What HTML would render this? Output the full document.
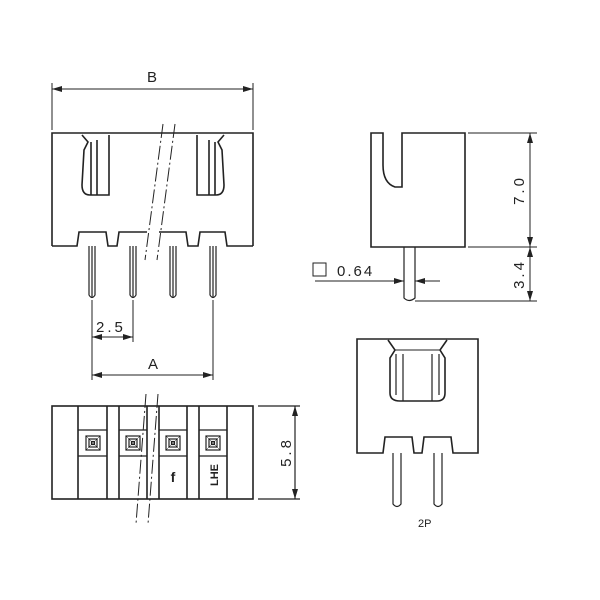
<!DOCTYPE html>
<html><head><style>html,body{margin:0;padding:0;background:#fff}svg{display:block}</style></head>
<body>
<svg width="600" height="600" viewBox="0 0 600 600" xmlns="http://www.w3.org/2000/svg" font-family="Liberation Sans, sans-serif">
<defs>
<marker id="ar" viewBox="0 0 10 6" refX="10" refY="3" markerWidth="10" markerHeight="6" orient="auto-start-reverse" markerUnits="userSpaceOnUse"><path d="M0,0 L10,3 L0,6 z" fill="#222"/></marker>
</defs>
<g stroke="#222" fill="none" stroke-width="1.6">
<!-- top-left view -->
<path d="M52,246 L52,133 L253,133 L253,246"/>
<path d="M52,246 L77,246 L79,232 L106,232 L108,246 L117,246 L119,232 L147,232"/>
<path d="M159,232 L186,232 L188,246 L198,246 L200,232 L225,232 L227,246 L253,246"/>
<path d="M147,232 L147,246 L117,246" stroke-width="0"/>
<!-- latches -->
<path d="M82,135 L88,142 L84,150 L82,185 Q82,195 90,195 L109,195 L109,135"/>
<path d="M91,142 L91,195 M97,140 L97,195"/>
<path d="M224,135 L218,142 L222,150 L224,185 Q224,195 216,195 L197,195 L197,135"/>
<path d="M215,142 L215,195 M209,140 L209,195"/>
<!-- pins -->
<g stroke-width="1.2">
<path d="M89,246 L89,295 Q92,300 95,295 L95,246 M92,246 L92,297"/>
<path d="M130,246 L130,295 Q133,300 136,295 L136,246 M133,246 L133,297"/>
<path d="M170,246 L170,295 Q173,300 176,295 L176,246 M173,246 L173,297"/>
<path d="M210,246 L210,295 Q213,300 216,295 L216,246 M213,246 L213,297"/>
</g>
</g>
<g stroke="#222" stroke-width="1" fill="none">
<path d="M52,83 L52,130 M253,83 L253,130"/>
<line x1="52" y1="89" x2="253" y2="89" marker-start="url(#ar)" marker-end="url(#ar)"/>
<path d="M92,300 L92,380 M133,300 L133,342 M213,300 L213,380"/>
<line x1="92" y1="337" x2="133" y2="337" marker-start="url(#ar)" marker-end="url(#ar)"/>
<line x1="92" y1="375" x2="213" y2="375" marker-start="url(#ar)" marker-end="url(#ar)"/>
<path d="M163,124 L145,260 M175,124 L157,260" stroke-dasharray="14,3,2,3"/>
<path d="M146,394 L136,524 M158,394 L148,524" stroke-dasharray="14,3,2,3"/>
</g>
<g font-size="15" fill="#222">
<text x="147" y="82">B</text>
<text x="96" y="332" letter-spacing="3">2.5</text>
<text x="148" y="369">A</text>
</g>
<!-- bottom view -->
<g stroke="#222" fill="none" stroke-width="1.6">
<rect x="52" y="406" width="201" height="93"/>
<path d="M78,406 V499 M107,406 V499 M119,406 V499 M147,406 V499 M159,406 V499 M187,406 V499 M199,406 V499 M227,406 V499"/>
<path d="M78,430 H107 M78,456 H107 M119,430 H147 M119,456 H147 M159,430 H187 M159,456 H187 M199,430 H227 M199,456 H227" stroke-width="1.2"/>
</g>
<g stroke="#222" fill="none" stroke-width="1.2">
<g id="sq"><rect x="86" y="436" width="14" height="14"/><rect x="89" y="439" width="8" height="8"/><rect x="91.5" y="441.5" width="3" height="3"/><path d="M86,436 L100,450 M100,436 L86,450" stroke-width="0.5"/></g>
<use href="#sq" x="40"/><use href="#sq" x="80"/><use href="#sq" x="120"/>
<path d="M258,406 H300 M258,499 H300"/>
<line x1="295" y1="406" x2="295" y2="499" marker-start="url(#ar)" marker-end="url(#ar)"/>
</g>
<text x="173" y="482" font-size="14" font-weight="bold" fill="#222" text-anchor="middle">f</text>
<text transform="translate(218,475) rotate(-90)" font-size="11" font-weight="bold" fill="#222" text-anchor="middle">LHE</text>
<text transform="translate(291,452) rotate(-90)" font-size="15" fill="#222" text-anchor="middle" letter-spacing="3">5.8</text>
<!-- side view -->
<g stroke="#222" fill="none" stroke-width="1.6">
<path d="M383,133 L371,133 L371,247 L465,247 L465,133 L402,133 L402,187 L395,187 Q383,183 383,165 Z"/>
<path d="M404,247 L404,298 Q409,303 415,298 L415,247" stroke-width="1.2"/>
</g>
<g stroke="#222" stroke-width="1" fill="none">
<path d="M468,133 H537 M468,247 H537 M415,301 H537"/>
<line x1="530" y1="133" x2="530" y2="247" marker-start="url(#ar)" marker-end="url(#ar)"/>
<line x1="530" y1="247" x2="530" y2="301" marker-start="url(#ar)" marker-end="url(#ar)"/>
<path d="M315,281 L404,281 M415,281 L440,281"/>
<line x1="390" y1="281" x2="404" y2="281" marker-end="url(#ar)"/>
<line x1="429" y1="281" x2="415" y2="281" marker-end="url(#ar)"/>
<rect x="313" y="263" width="13" height="13"/>
</g>
<text x="337" y="276" font-size="15" fill="#222" letter-spacing="2">0.64</text>
<text transform="translate(524,190) rotate(-90)" font-size="15" fill="#222" text-anchor="middle" letter-spacing="3">7.0</text>
<text transform="translate(524,274) rotate(-90)" font-size="15" fill="#222" text-anchor="middle" letter-spacing="3">3.4</text>
<!-- front view -->
<g stroke="#222" fill="none" stroke-width="1.6">
<path d="M357,453 L357,339 L478,339 L478,453 L453,453 L451,437 L424,437 L422,453 L414,453 L412,437 L385,437 L383,453 Z"/>
<path d="M388,340 L395,350 L390,358 L390,393 Q390,401 400,401 L437,401 Q445,401 445,393 L445,358 L440,350 L447,340"/>
<path d="M395,350 H440" stroke-width="1"/>
<path d="M403,354 V401 M432,354 V401 M396,354 V395 M439,354 V395" stroke-width="1.2"/>
<path d="M393,453 L393,504 Q397,509 401,504 L401,453 M434,453 L434,504 Q438,509 442,504 L442,453" stroke-width="1.2"/>
</g>
<text x="418" y="527" font-size="11" fill="#222">2P</text>
</svg>
</body></html>
